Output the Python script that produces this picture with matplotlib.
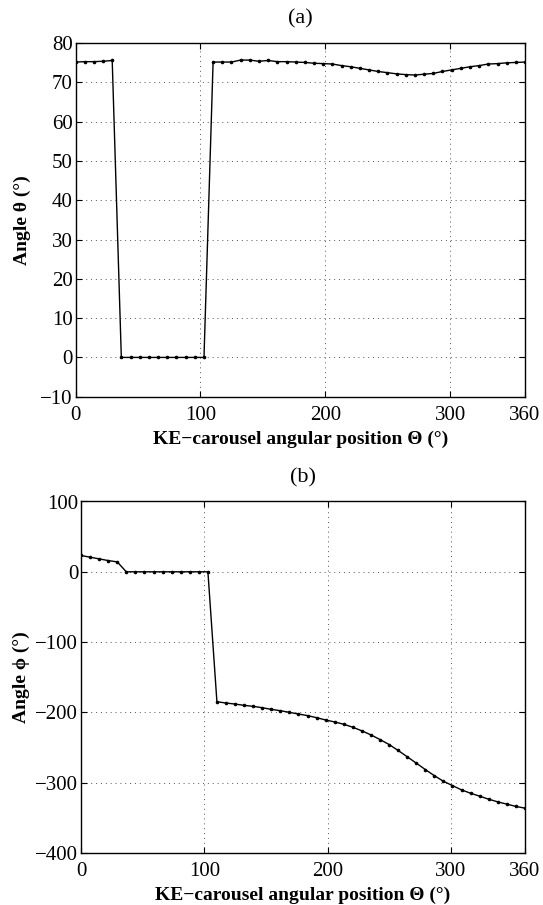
import matplotlib
matplotlib.use("Agg")
import matplotlib.pyplot as plt

plt.rcParams['font.family'] = ['Liberation Serif', 'DejaVu Serif']

# KE-carousel angular position (deg)
carousel_pos = [0.0, 7.3, 14.7, 22.0, 29.4, 36.7, 44.1, 51.4, 58.8, 66.1,
                73.5, 80.8, 88.2, 95.5, 102.9, 110.2, 117.6, 124.9, 132.2, 139.6,
                146.9, 154.3, 161.6, 169.0, 176.3, 183.7, 191.0, 198.4, 205.7, 213.1,
                220.4, 227.8, 235.1, 242.4, 249.8, 257.1, 264.5, 271.8, 279.2, 286.5,
                293.9, 301.2, 308.6, 315.9, 323.3, 330.6, 338.0, 345.3, 352.7, 360.0]

# Angle theta (deg)
theta = [75.2, 75.3, 75.3, 75.4, 75.6, 0, 0, 0, 0, 0,
         0, 0, 0, 0, 0, 75.2, 75.2, 75.2, 75.7, 75.7,
         75.4, 75.6, 75.3, 75.3, 75.2, 75.1, 74.9, 74.8, 74.7, 74.3,
         74.0, 73.6, 73.2, 72.8, 72.5, 72.2, 72.0, 71.9, 72.1, 72.3,
         72.8, 73.2, 73.6, 74.0, 74.3, 74.7, 74.8, 75.0, 75.1, 75.2]

# Angle phi (deg)
phi = [23.2, 20.8, 18.4, 16.0, 14.1, 0, 0, 0, 0, 0,
       0, 0, 0, 0, 0, -184.8, -186.7, -188.1, -190.0, -191.4,
       -193.3, -195.7, -197.6, -199.9, -202.3, -204.6, -207.5, -210.8, -213.6, -216.9,
       -221.1, -226.3, -232.0, -238.6, -245.7, -254.1, -263.1, -272.1, -281.3, -290.0,
       -298.0, -304.1, -310.3, -315.0, -319.2, -323.5, -327.3, -330.5, -333.8, -336.2]

xticks = [0, 100, 200, 300, 360]
theta_ticks = [-10, 0, 10, 20, 30, 40, 50, 60, 70, 80]
phi_ticks = [-400, -300, -200, -100, 0, 100]

W, H = 543, 905
fig = plt.figure(figsize=(W / 100, H / 100), dpi=100)

ax1 = fig.add_axes([75.5 / W, 1 - 396.7 / H, 449.5 / W, 353.5 / H])
ax2 = fig.add_axes([81 / W, 1 - 853 / H, 444 / W, 351.5 / H])

xlabel = 'KE\u2212carousel angular position \u0398 (\u00b0)'

def style(ax, yticks, ylim):
    ax.set_xlim(0, 360)
    ax.set_ylim(*ylim)
    ax.set_xticks(xticks)
    ax.set_yticks(yticks)
    ax.set_xticklabels([str(t) for t in xticks])
    ax.set_yticklabels([str(t).replace('-', '\u2212') for t in yticks])
    ax.tick_params(direction='in', top=True, right=True, labelsize=15,
                   length=4, width=0.8)
    ax.tick_params(axis='x', pad=6.5)
    ax.tick_params(axis='y', pad=2)
    ax.grid(True, linestyle=(0, (1, 4)), color='#555555', linewidth=0.7)
    for s in ax.spines.values():
        s.set_linewidth(1.0)
    ax.set_xlabel(xlabel, fontsize=14, fontweight='bold', labelpad=4)

ax1.plot(carousel_pos, theta, '-', color='black', linewidth=1.0,
         marker='.', markersize=3.2)
style(ax1, theta_ticks, (-10, 80))
ax1.set_ylabel('Angle \u03b8 (\u00b0)', fontsize=14, fontweight='bold', labelpad=7)
ax1.set_title('(a)', fontsize=16, pad=14)

ax2.plot(carousel_pos, phi, '-', color='black', linewidth=1.0,
         marker='.', markersize=3.2)
style(ax2, phi_ticks, (-400, 100))
ax2.set_ylabel('Angle \u03d5 (\u00b0)', fontsize=14, fontweight='bold', labelpad=4)
ax2.set_title('(b)', fontsize=16, pad=14)

fig.savefig('out.png', dpi=100)
